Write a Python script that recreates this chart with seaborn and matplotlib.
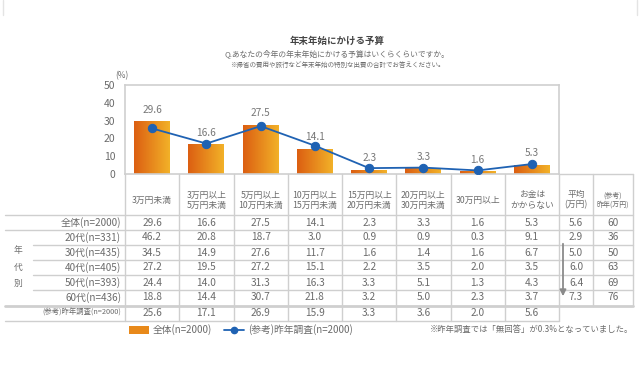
import matplotlib
matplotlib.use('Agg')
import matplotlib.pyplot as plt
from matplotlib.colors import LinearSegmentedColormap
from matplotlib.patches import Patch
from matplotlib.lines import Line2D
import numpy as np
import pandas as pd
import seaborn as sns

sns.set_theme(style='white')
plt.rcParams['font.family'] = ['Noto Sans CJK JP', 'DejaVu Sans']

# %% data
cats = ['3万円未満', '3万円以上\n5万円未満', '5万円以上\n10万円未満', '10万円以上\n15万円未満',
        '15万円以上\n20万円未満', '20万円以上\n30万円未満', '30万円以上', 'お金は\nかからない']
overall = [29.6, 16.6, 27.5, 14.1, 2.3, 3.3, 1.6, 5.3]
last_year = [25.6, 17.1, 26.9, 15.9, 3.3, 3.6, 2.0, 5.6]

row_labels = ['全体(n=2000)', '20代(n=331)', '30代(n=435)', '40代(n=405)',
              '50代(n=393)', '60代(n=436)']
age20 = [46.2, 20.8, 18.7, 3.0, 0.9, 0.9, 0.3, 9.1]
age30 = [34.5, 14.9, 27.6, 11.7, 1.6, 1.4, 1.6, 6.7]
age40 = [27.2, 19.5, 27.2, 15.1, 2.2, 3.5, 2.0, 3.5]
age50 = [24.4, 14.0, 31.3, 16.3, 3.3, 5.1, 1.3, 4.3]
age60 = [18.8, 14.4, 30.7, 21.8, 3.2, 5.0, 2.3, 3.7]
avg_now = [5.6, 2.9, 5.0, 6.0, 6.4, 7.3]
avg_prev = ['60', '36', '50', '63', '69', '76']
ref_label = '(参考)昨年調査(n=2000)'

txt = '#6b6b6b'
grid = '#cfcfcf'
blue = '#1f62b3'
W, H = 640, 370

fig = plt.figure(figsize=(6.4, 3.7), dpi=100)
# overlay in pixel coords for the table and texts
tab = fig.add_axes([0, 0, 1, 1])
tab.set_xlim(0, W)
tab.set_ylim(H, 0)
tab.axis('off')

x0, x1, ytop, ybot = 125, 559, 85, 174
ax = fig.add_axes([x0 / W, 1 - ybot / H, (x1 - x0) / W, (ybot - ytop) / H])

df = pd.DataFrame({'cat': cats, 'overall': overall, 'last': last_year})
sns.barplot(data=df, x='cat', y='overall', color='#e8891a', width=0.66, ax=ax)

# gradient fill on bars
cmap = LinearSegmentedColormap.from_list('og', ['#dc5f12', '#f2b128'])
grad = np.linspace(0, 1, 64).reshape(1, -1)
for p in list(ax.patches):
    bx, by = p.get_x(), p.get_y()
    bw, bh = p.get_width(), p.get_height()
    im = ax.imshow(grad, cmap=cmap, aspect='auto', extent=[bx, bx + bw, by, by + bh],
                   zorder=2, interpolation='bicubic')
    im.set_clip_path(p)
    p.set_edgecolor('none')

sns.lineplot(x=np.arange(len(cats)), y=df['last'], color=blue, marker='o', markersize=6,
             markeredgecolor=blue, linewidth=1.3, ax=ax, zorder=4)

for i, v in enumerate(overall):
    ax.text(i, v + 6.5, f'{v:.1f}', ha='center', va='center', fontsize=7.3, color='#777777')

ax.set_xlim(-0.5, len(cats) - 0.5)
ax.set_ylim(0, 50)
ax.set_yticks([0, 10, 20, 30, 40, 50])
ax.set_xticks([])
ax.set_xlabel('')
ax.set_ylabel('')
ax.tick_params(axis='y', length=0, pad=7, labelsize=7.5, labelcolor=txt)
for s in ax.spines.values():
    s.set_color(grid)
    s.set_linewidth(1.2)
ax.patch.set_alpha(0)
tab.text(122, 76, '(%)', ha='center', va='center', fontsize=6, color=txt)

# titles
tab.text(337, 41, '年末年始にかける予算', ha='center', va='center', fontsize=6.8,
         color='#444444', fontweight='bold')
tab.text(337, 53.5, 'Q.あなたの今年の年末年始にかける予算はいくらくらいですか。', ha='center',
         va='center', fontsize=5.6, color=txt)
tab.text(337, 65, '※帰省の費用や旅行など年末年始の特別な出費の合計でお答えください。', ha='center',
         va='center', fontsize=4.7, color=txt)
# faint frame at the top
tab.plot([3, 3], [0, 15], color='#e4e4e4', lw=1)
tab.plot([637, 637], [0, 15], color='#e4e4e4', lw=1)

# %% table
cw = (x1 - x0) / len(cats)
cx = [x0 + cw * (i + 0.5) for i in range(len(cats))]
xa, xb, xr = 593, 633, 633
lkw = dict(color=grid, lw=1)

# vertical lines
for k in range(len(cats) + 1):
    tab.plot([x0 + cw * k] * 2, [ybot, 321], **lkw)
tab.plot([xa, xa], [ybot, 306], **lkw)
tab.plot([xr, xr], [ybot, 306], **lkw)
tab.plot([x1, xr], [ybot, ybot], **lkw)
# horizontal lines
tab.plot([5, xr], [215, 215], **lkw)
tab.plot([5, xr], [230, 230], **lkw)
for y in [245, 260, 275, 290]:
    tab.plot([33, xr], [y, y], **lkw)
tab.plot([5, xr], [306, 306], color=grid, lw=2)
tab.plot([5, x1], [321, 321], **lkw)

# header
for x, c in zip(cx, cats):
    tab.text(x, 200, c, ha='center', va='center', fontsize=6.3, color=txt, linespacing=1.15)
tab.text((x1 + xa) / 2, 200, '平均\n(万円)', ha='center', va='center', fontsize=6.3,
         color=txt, linespacing=1.15)
tab.text((xa + xr) / 2, 200, '(参考)\n昨年(万円)', ha='center', va='center', fontsize=5,
         color=txt, linespacing=1.3)

rows = [overall, age20, age30, age40, age50, age60]
row_y = [222.5, 237.5, 252.5, 267.5, 282.5, 297.5]
for lab, vals, y, a, b in zip(row_labels, rows, row_y, avg_now, avg_prev):
    tab.text(121, y, lab, ha='right', va='center', fontsize=7.2, color=txt)
    for x, v in zip(cx, vals):
        tab.text(x, y, f'{v:.1f}', ha='center', va='center', fontsize=7.3, color=txt)
    tab.text((x1 + xa) / 2, y, f'{a:.1f}', ha='center', va='center', fontsize=7.3, color=txt)
    tab.text((xa + xr) / 2, y, b, ha='center', va='center', fontsize=7.3, color=txt)
tab.text(121, 313, ref_label, ha='right', va='center', fontsize=5.3, color=txt)
for x, v in zip(cx, last_year):
    tab.text(x, 313, f'{v:.1f}', ha='center', va='center', fontsize=7.3, color=txt)
for ch, y in zip('年代別', [250, 267, 283]):
    tab.text(18, y, ch, ha='center', va='center', fontsize=6.3, color=txt)

tab.annotate('', xy=(563, 299), xytext=(563, 241),
             arrowprops=dict(arrowstyle='-|>', color='#8a8a8a', lw=1.3, mutation_scale=9))

# legend
handles = [Patch(facecolor='#e8891a', edgecolor='none'),
           Line2D([], [], color=blue, marker='o', markersize=4.5, lw=1.3)]
fig.legend(handles, ['全体(n=2000)', '(参考)昨年調査(n=2000)'], ncol=2, frameon=False,
           loc='center left', bbox_to_anchor=(120 / W, 1 - 330 / H), fontsize=7,
           handlelength=2.1, handleheight=0.9, handletextpad=0.4, columnspacing=1.2,
           labelcolor=txt)
tab.text(633, 329, '※昨年調査では「無回答」が0.3%となっていました。', ha='right', va='center',
         fontsize=6, color=txt)

fig.savefig('out.png', dpi=100)
